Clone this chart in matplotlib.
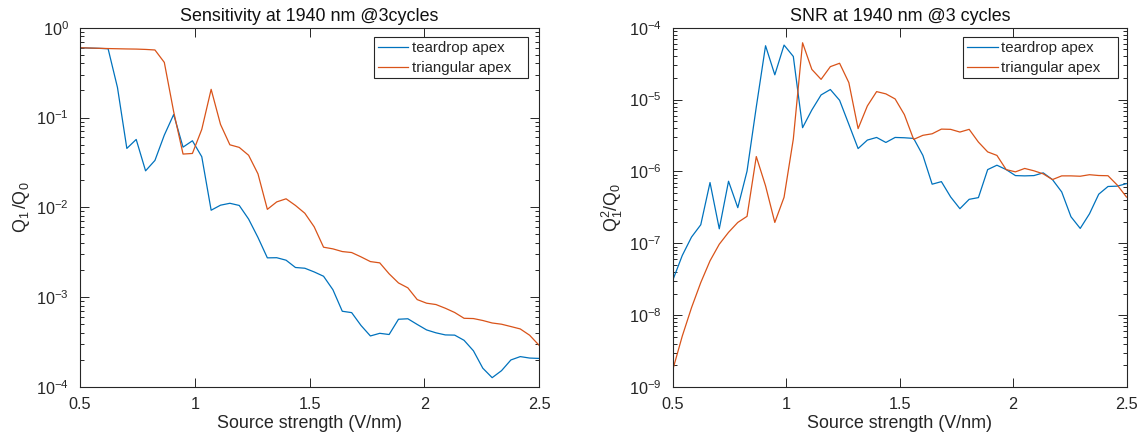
import numpy as np
import matplotlib
matplotlib.use("Agg")
import matplotlib.pyplot as plt
from matplotlib.patches import Rectangle
from matplotlib.ticker import LogLocator, FixedLocator, FixedFormatter, NullFormatter

plt.rcParams['font.family'] = ['Liberation Sans', 'DejaVu Sans']
plt.rcParams['mathtext.fontset'] = 'custom'
plt.rcParams['mathtext.rm'] = 'Liberation Sans'
plt.rcParams['mathtext.it'] = 'Liberation Sans'

# Source strength sweep (V/nm)
source_strength = np.linspace(0.5, 2.5, 50)

# Sensitivity Q1/Q0
sens_teardrop = [0.598, 0.593, 0.589, 0.583, 0.216, 0.0453, 0.0570, 0.0255, 0.0333, 0.0637,
                 0.108, 0.0468, 0.0551, 0.0366, 0.00929, 0.01057, 0.0111, 0.0105, 0.0074, 0.00462,
                 0.00274, 0.00275, 0.00258, 0.00214, 0.00210, 0.00191, 0.00171, 0.00121, 0.000697, 0.000673,
                 0.000484, 0.000370, 0.000396, 0.000384, 0.000568, 0.000575, 0.000497, 0.000432, 0.000401, 0.000380,
                 0.000378, 0.000331, 0.000253, 0.000162, 0.000127, 0.000152, 0.000200, 0.000218, 0.000210, 0.000208]
sens_triangular = [0.598, 0.594, 0.590, 0.586, 0.583, 0.580, 0.578, 0.573, 0.565, 0.411,
                   0.116, 0.0392, 0.0398, 0.0738, 0.206, 0.0838, 0.0497, 0.0465, 0.0380, 0.0236,
                   0.0095, 0.0115, 0.01245, 0.0105, 0.0086, 0.00607, 0.0036, 0.00345, 0.00322, 0.00314,
                   0.00281, 0.00249, 0.00241, 0.00182, 0.00144, 0.00127, 0.00094, 0.000857, 0.000828, 0.000753,
                   0.000675, 0.000582, 0.000578, 0.000550, 0.000516, 0.000500, 0.000471, 0.000443, 0.000377, 0.000292]

# Signal-to-noise Q1^2/Q0
snr_teardrop = [3.12e-8, 6.76e-8, 1.22e-7, 1.81e-7, 7.0e-7, 1.59e-7, 7.3e-7, 3.13e-7, 1.01e-6, 7.9e-6,
                5.61e-5, 2.21e-5, 5.73e-5, 3.98e-5, 4.06e-6, 7.16e-6, 1.16e-5, 1.38e-5, 9.77e-6, 4.52e-6,
                2.08e-6, 2.73e-6, 2.97e-6, 2.53e-6, 2.97e-6, 2.94e-6, 2.88e-6, 1.67e-6, 6.64e-7, 7.21e-7,
                4.41e-7, 3.03e-7, 4.09e-7, 4.32e-7, 1.06e-6, 1.22e-6, 1.06e-6, 8.75e-7, 8.67e-7, 8.75e-7,
                9.55e-7, 7.69e-7, 5.18e-7, 2.34e-7, 1.61e-7, 2.57e-7, 4.82e-7, 6.17e-7, 6.24e-7, 6.76e-7]
snr_triangular = [1.78e-9, 5.1e-9, 1.27e-8, 2.84e-8, 5.7e-8, 9.7e-8, 1.42e-7, 1.95e-7, 2.37e-7, 1.61e-6,
                  6.3e-7, 1.95e-7, 4.37e-7, 2.82e-6, 6.17e-5, 2.63e-5, 1.91e-5, 2.87e-5, 3.2e-5, 1.72e-5,
                  3.94e-6, 8.15e-6, 1.29e-5, 1.2e-5, 1.02e-5, 6.17e-6, 2.79e-6, 3.18e-6, 3.34e-6, 3.88e-6,
                  3.85e-6, 3.53e-6, 3.85e-6, 2.56e-6, 1.87e-6, 1.67e-6, 1.06e-6, 9.86e-7, 1.10e-6, 1.02e-6,
                  9.25e-7, 7.7e-7, 8.67e-7, 8.67e-7, 8.57e-7, 9.0e-7, 8.77e-7, 8.71e-7, 6.46e-7, 4.4e-7]

series_labels = ['teardrop apex', 'triangular apex']
x_ticks = [0.5, 1.0, 1.5, 2.0, 2.5]
x_tick_labels = ['0.5', '1', '1.5', '2', '2.5']

BLUE = '#0072BD'
ORANGE = '#D95319'
INK = '#262626'

W, H = 1143, 443
fig = plt.figure(figsize=(W / 100, H / 100), dpi=100)
ax1 = fig.add_axes([80 / W, 1 - 387 / H, 459 / W, 359.3 / H])
ax2 = fig.add_axes([673 / W, 1 - 387 / H, 453.5 / W, 359.3 / H])


def add_legend(ax, box_left, box_right):
    # boxed legend with a roomy right margin, placed in figure pixels
    top, bottom = 36.7, 77.5
    frame = Rectangle((box_left / W, 1 - bottom / H), (box_right - box_left) / W,
                      (bottom - top) / H, transform=fig.transFigure, facecolor='white',
                      edgecolor=INK, linewidth=0.8, zorder=5, clip_on=False)
    ax.add_patch(frame)
    leg = ax.legend(loc='upper left', bbox_to_anchor=((box_left + 4) / W, 1 - (top + 4.5) / H),
                    bbox_transform=fig.transFigure, fontsize=10.8, frameon=False,
                    handlelength=2.05, handletextpad=0.22, labelspacing=0.38,
                    borderpad=0.0, borderaxespad=0.0)
    leg.set_zorder(6)
    for t in leg.get_texts():
        t.set_color(INK)


def style_axes(ax, ylim, title, ylabel):
    ax.set_yscale('log')
    ax.set_xlim(0.5, 2.5)
    ax.set_ylim(*ylim)
    ax.xaxis.set_major_locator(FixedLocator(x_ticks))
    ax.xaxis.set_major_formatter(FixedFormatter(x_tick_labels))
    ax.yaxis.set_major_locator(LogLocator(base=10, numticks=20))
    ax.yaxis.set_minor_locator(LogLocator(base=10, subs=np.arange(2, 10), numticks=20))
    ax.yaxis.set_minor_formatter(NullFormatter())
    ax.tick_params(which='both', direction='in', top=True, right=True,
                   color=INK, labelcolor=INK, width=0.7)
    ax.tick_params(which='major', length=6.5, labelsize=11.7)
    ax.tick_params(which='minor', length=3.2)
    ax.tick_params(axis='x', which='major', pad=7)
    ax.tick_params(axis='y', which='major', pad=8)
    for sp in ax.spines.values():
        sp.set_color(INK)
        sp.set_linewidth(0.8)
    ax.set_title(title, fontsize=12.9, color='#111111', pad=5)
    ax.set_xlabel('Source strength (V/nm)', fontsize=12.9, color=INK, labelpad=2)
    ax.set_ylabel(ylabel, fontsize=12.9, color=INK, labelpad=3)


ax1.plot(source_strength, sens_teardrop, color=BLUE, lw=0.9, label=series_labels[0])
ax1.plot(source_strength, sens_triangular, color=ORANGE, lw=0.9, label=series_labels[1])
style_axes(ax1, (1e-4, 1), 'Sensitivity at 1940 nm @3cycles',
           r'$\mathregular{Q_1\,/Q_0}$')
add_legend(ax1, 373.6, 528.0)

ax2.plot(source_strength, snr_teardrop, color=BLUE, lw=0.9, label=series_labels[0])
ax2.plot(source_strength, snr_triangular, color=ORANGE, lw=0.9, label=series_labels[1])
style_axes(ax2, (1e-9, 1e-4), 'SNR at 1940 nm @3 cycles',
           r'$\mathregular{Q_1^2/Q_0}$')
add_legend(ax2, 962.8, 1117.5)

fig.savefig('out.png', dpi=100, facecolor='white')
